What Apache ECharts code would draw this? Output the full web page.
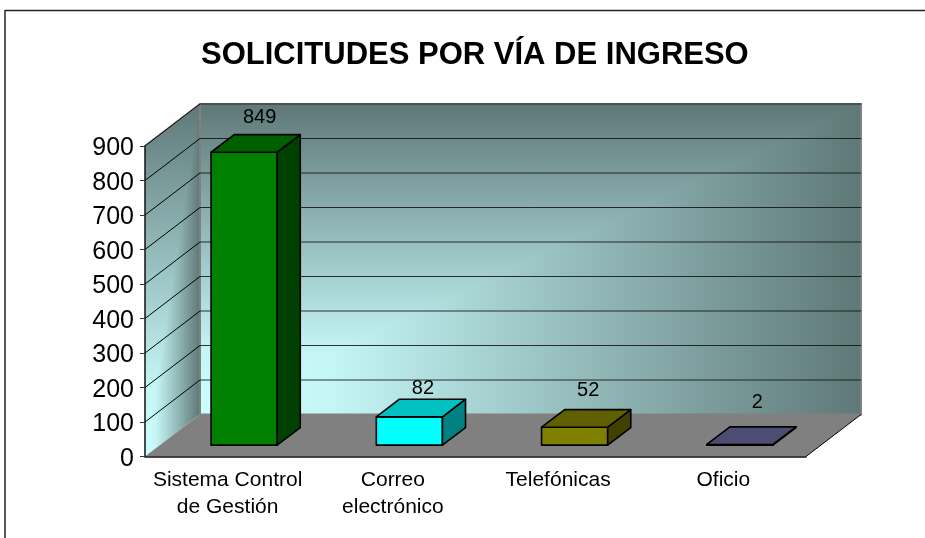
<!DOCTYPE html>
<html>
<head>
<meta charset="utf-8">
<title>Solicitudes por vía de ingreso</title>
<script src="https://cdn.jsdelivr.net/npm/echarts@6/dist/echarts.min.js"></script>
<style>
  html, body { margin: 0; padding: 0; background: #fff; }
  #chart { width: 925px; height: 538px; }
</style>
</head>
<body>
<div id="chart"></div>
<script>
const categories = ["Sistema Control\nde Gestión", "Correo\nelectrónico", "Telefónicas", "Oficio"];
const values = [849, 82, 52, 2];
const yTicks = [0, 100, 200, 300, 400, 500, 600, 700, 800, 900];

const FRONT_COLORS = ["#008000", "#00ffff", "#808000", "#666699"];
const TOP_COLORS = ["#006000", "#00c0c0", "#606000", "#4d4d73"];
const SIDE_COLORS = ["#004000", "#008080", "#404000", "#333366"];

// how far the value labels sit from the back top edge of each bar
const LABEL_DX = [4, 2, 2, 6];
const LABEL_LIFT = [17, 11, 19, 24];

// oblique projection of the depth axis
const DEPTH_X = 55;
const DEPTH_Y = -42;
const BAR_WIDTH = 0.4; // share of a category band
const BAR_FRONT = 0.3; // share of depth in front of the bar
const BAR_FRONT_Y = 0.27;
const BAR_DEPTH = 0.42;

const FONT = '"Liberation Sans", Arial, sans-serif';

function wallFill(x0, y0, x1, y1) {
    return new echarts.graphic.LinearGradient(x0, y0, x1, y1, [
        { offset: 0, color: "#ccffff" },
        { offset: 0.2, color: "#c4f6f6" },
        { offset: 1, color: "#5f7878" }
    ], true);
}

function poly(points, style) {
    return { type: "polygon", silent: true, shape: { points }, style };
}

function renderWalls(params) {
    const g = params.coordSys;
    const l = g.x, r = g.x + g.width, t = g.y, b = g.y + g.height;
    const dx = DEPTH_X, dy = DEPTH_Y;
    const border = { fill: "none", stroke: "#808080", lineWidth: 2 };

    const backBL = [l + dx, b + dy], backTL = [l + dx, t + dy];
    const backTR = [r + dx, t + dy], backBR = [r + dx, b + dy];

    return {
        type: "group",
        children: [
            // side wall, lit from its lower front corner
            poly([[l, b], [l, t], backTL, backBL], { fill: wallFill(l, 0, l + dx, 0) }),
            poly([[l, b], [l, t], backTL], { fill: wallFill(0, b, 0, t + dy) }),
            // back wall, same corner light
            poly([backBL, backTL, backTR, backBR], { fill: wallFill(l + dx, 0, r + dx, 0) }),
            poly([backBL, backTL, backTR], { fill: wallFill(0, b + dy, 0, t + dy) }),
            // floor
            poly([[l, b], backBL, backBR, [r, b]], { fill: "#808080" }),
            { type: "polyline", silent: true, shape: { points: [[l, t], backTL] }, style: border },
            poly([backBL, backTL, backTR, backBR], border),
            { type: "line", silent: true, shape: { x1: r, y1: b, x2: r + dx, y2: b + dy }, style: { stroke: "#000", lineWidth: 1 } }
        ]
    };
}

function renderGridLine(params, api) {
    const g = params.coordSys;
    const y = api.coord([0, api.value(1)])[1];
    const style = { stroke: "#111", lineWidth: 1, opacity: 0.85 };
    if (api.value(1) === 0) return { type: "group", children: [] };
    return {
        type: "group",
        children: [
            { type: "line", silent: true, shape: { x1: g.x, y1: y, x2: g.x + DEPTH_X, y2: y + DEPTH_Y }, style: { stroke: "#000", lineWidth: 1 } },
            { type: "line", silent: true, shape: { x1: g.x + DEPTH_X, y1: y + DEPTH_Y, x2: g.x + g.width + DEPTH_X, y2: y + DEPTH_Y }, style }
        ]
    };
}

function renderBar(params, api) {
    const i = api.value(0);
    const base = api.coord([i, 0]);
    const head = api.coord([i, api.value(1)]);
    const w = api.size([1, 0])[0] * BAR_WIDTH;
    const x0 = base[0] - w / 2 + DEPTH_X * BAR_FRONT;
    const x1 = x0 + w;
    const yb = base[1] + DEPTH_Y * BAR_FRONT_Y;
    const yt = head[1] + DEPTH_Y * BAR_FRONT_Y;
    const ox = DEPTH_X * BAR_DEPTH, oy = DEPTH_Y * BAR_DEPTH;
    const edge = { stroke: "#000", lineWidth: 1.6, lineJoin: "round" };

    return {
        type: "group",
        children: [
            poly([[x0, yb], [x0, yt], [x1, yt], [x1, yb]], { fill: FRONT_COLORS[i], ...edge }),
            poly([[x1, yb], [x1, yt], [x1 + ox, yt + oy], [x1 + ox, yb + oy]], { fill: SIDE_COLORS[i], ...edge }),
            poly([[x0, yt], [x0 + ox, yt + oy], [x1 + ox, yt + oy], [x1, yt]], { fill: TOP_COLORS[i], ...edge }),
            {
                type: "text",
                silent: true,
                style: {
                    x: (x0 + x1 + ox) / 2 + LABEL_DX[i],
                    y: yt + oy - LABEL_LIFT[i],
                    text: String(api.value(1)),
                    fill: "#000",
                    font: "20px " + FONT,
                    align: "center",
                    verticalAlign: "middle"
                }
            }
        ]
    };
}

const chart = echarts.init(document.getElementById("chart"), null, { renderer: "canvas" });

chart.setOption({
    animation: false,
    backgroundColor: "#fff",
    title: {
        text: "SOLICITUDES POR VÍA DE INGRESO",
        left: 201,
        top: 40,
        padding: 0,
        textStyle: { color: "#000", fontFamily: FONT, fontWeight: "bold", fontSize: 31 }
    },
    grid: { left: 145, right: 119, top: 146, bottom: 81.5, containLabel: false },
    xAxis: {
        type: "category",
        data: categories,
        z: 5,
        axisLine: { lineStyle: { color: "#111", width: 1.5 } },
        axisTick: { length: 6, lineStyle: { color: "#333", width: 1 } },
        axisLabel: { color: "#000", fontFamily: FONT, fontSize: 21, lineHeight: 27, margin: 10, interval: 0 }
    },
    yAxis: {
        type: "value",
        min: 0,
        max: 900,
        interval: 100,
        z: 5,
        splitLine: { show: false },
        axisLine: { show: true, lineStyle: { color: "#111", width: 1.5 } },
        axisTick: { show: true, length: 5, lineStyle: { color: "#333", width: 1 } },
        axisLabel: {
            margin: 11,
            formatter: "{n|{value}}",
            rich: { n: { color: "#000", fontFamily: FONT, fontSize: 25, padding: [5, 0, 0, 0] } }
        }
    },
    graphic: [
        { type: "line", silent: true, shape: { x1: 5, y1: 10.5, x2: 925, y2: 10.5 }, style: { stroke: "#222", lineWidth: 1.5 } },
        { type: "line", silent: true, shape: { x1: 5, y1: 10, x2: 5, y2: 538 }, style: { stroke: "#222", lineWidth: 1.5 } }
    ],
    series: [
        { type: "custom", silent: true, z: 1, renderItem: renderWalls, data: [[0, 0]], encode: { x: 0, y: 1 } },
        { type: "custom", silent: true, z: 2, renderItem: renderGridLine, data: yTicks.map(t => [0, t]), encode: { x: 0, y: 1 } },
        { type: "custom", silent: true, z: 3, renderItem: renderBar, data: values.map((v, i) => [i, v]), encode: { x: 0, y: 1 } }
    ]
});
</script>
</body>
</html>
